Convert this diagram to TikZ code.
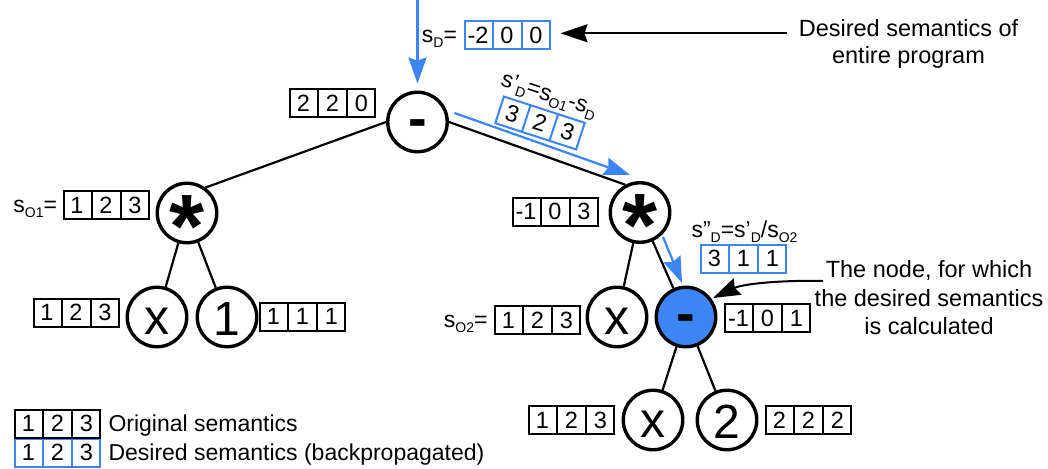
\documentclass[tikz,border=0pt]{standalone}
\usepackage{fontspec}
\setmainfont{Liberation Sans}
\usetikzlibrary{arrows.meta,shapes.multipart,calc}
\definecolor{bp}{RGB}{59,133,245}
% one cell of a semantics vector
\newcommand\cellbox[1]{\makebox[27pt]{\rule[-5.75pt]{0pt}{28pt}#1}}
% three-cell semantics vector
\newcommand\semvals[3]{\cellbox{#1}\nodepart{two}\cellbox{#2}\nodepart{three}\cellbox{#3}}
% lowered small index
\newcommand\sbs[1]{\raisebox{-5pt}{\fontsize{14}{14}\selectfont #1}}
% operator symbol centred in a tree node
\newcommand\opglyph[3]{\smash{\raisebox{-#1}{\fontsize{#2}{#2}\selectfont #3}}}
\begin{document}
\begin{tikzpicture}[x=1pt,y=-1pt,
  font=\fontsize{23}{27}\selectfont,
  op/.style={circle,draw,line width=3.4pt,minimum size=59.5pt,inner sep=0pt,fill=white},
  target/.style={op,fill=bp},
  sem/.style={draw,line width=2pt,rectangle split,rectangle split horizontal,
    rectangle split parts=3,inner xsep=0pt,inner ysep=0pt,font=\fontsize{23.5}{23.5}\selectfont},
  dsem/.style={sem,draw=bp},
  edge/.style={line width=2.2pt},
  bparrow/.style={draw=bp,line width=2.2pt,-{Stealth[length=26pt,width=18pt,inset=3pt]}},
  karrow/.style={line width=2pt,-{Stealth[length=27pt,width=18pt,inset=3pt]}}]
\useasboundingbox (0,0) rectangle (1048,468);

% tree nodes
\node[op] (root) at (417.5,122) {\opglyph{15.7pt}{56}{\bfseries -}};
\node[op] (lstar) at (187,213) {\opglyph{44pt}{90}{\bfseries *}};
\node[op] (lx) at (157,317) {\opglyph{17pt}{50}{x}};
\node[op] (lone) at (227,317) {\opglyph{18.5pt}{48}{1}};
\node[op] (rstar) at (640,212.5) {\opglyph{44pt}{90}{\bfseries *}};
\node[op] (rx) at (617,317) {\opglyph{17pt}{50}{x}};
\node[target] (tgt) at (686,317) {\opglyph{15.7pt}{56}{\bfseries -}};
\node[op] (bx) at (653,420) {\opglyph{17pt}{50}{x}};
\node[op] (btwo) at (727,420) {\opglyph{18.5pt}{48}{2}};

% tree edges
\draw[edge] (root.west) -- (lstar.54);
\draw[edge] (root.east) -- (rstar.118);
\draw[edge] (lstar) -- (lx);
\draw[edge] (lstar) -- (lone);
\draw[edge] (rstar) -- (rx);
\draw[edge] (rstar) -- (tgt);
\draw[edge] (tgt) -- (bx);
\draw[edge] (tgt) -- (btwo);

% original semantics
\node[sem] (rootsem) at (332.5,103) {\semvals{2}{2}{0}};
\node[sem] (lstarsem) at (106,205) {\semvals{1}{2}{3}};
\node[anchor=base east] (so1lab) at ($(lstarsem.west)+(-2,7)$) {s\sbs{O1}=};
\node[sem] (lxsem) at (76,312.5) {\semvals{1}{2}{3}};
\node[sem] (lonesem) at (302.5,316.5) {\semvals{1}{1}{1}};
\node[sem] (rstarsem) at (555,211.5) {\semvals{-1}{0}{3}};
\node[sem] (rxsem) at (537.5,320) {\semvals{1}{2}{3}};
\node[anchor=base east] (so2lab) at ($(rxsem.west)+(-3,7)$) {s\sbs{O2}=};
\node[sem] (tgtsem) at (767.5,318) {\semvals{-1}{0}{1}};
\node[sem] (bxsem) at (571.5,420) {\semvals{1}{2}{3}};
\node[sem] (btwosem) at (808.5,420) {\semvals{2}{2}{2}};

% desired semantics
\node[dsem] (sdbox) at (507,35.5) {\semvals{-2}{0}{0}};
\node[anchor=base east] (sdlab) at ($(sdbox.west)+(-3,7.5)$) {s\sbs{D}=};
\node[dsem,rotate=-18] (sd1box) at (540,123) {\semvals{3}{2}{3}};
\node[rotate=-18,anchor=base] (sd1lab) at (547.2,101) {s'\sbs{D}=s\sbs{O1}-s\sbs{D}};
\node[anchor=base] (sd2lab) at (744.5,237) {s''\sbs{D}=s'\sbs{D}/s\sbs{O2}};
\node[dsem] (sd2box) at (743.5,258.5) {\semvals{3}{1}{1}};

% backpropagation arrows
\coordinate (sdtop) at (417.5,0);
\draw[bparrow,shorten >=7pt] (sdtop) -- (root.north);
\draw[bparrow] ($(root)+(37,-9)$) -- ($(rstar)+(-10,-37.5)$);
\draw[bparrow] ($(rstar)+(23,24.5)$) -- ($(tgt)+(-4,-34)$);

% annotations
\node[align=center,font=\fontsize{23.5}{27}\selectfont] (desc) at (908.5,43.5) {Desired semantics of\\entire program};
\coordinate (descend) at (787,33.3);
\draw[karrow,shorten >=10pt] (descend) -- (descend -| sdbox.east);
\node[align=center,font=\fontsize{23.5}{28.5}\selectfont] (calc) at (929,298) {The node, for which\\the desired semantics\\is calculated};
\coordinate (calcptr) at (823,281);
\draw[karrow] (calcptr) .. controls (790,280) and (745,283) .. ($(tgt)+(27,-19)$);

% legend
\node[dsem] (legd) at (57.5,452.5) {\semvals{1}{2}{3}};
\node[sem] (lego) at (57.5,423.5) {\semvals{1}{2}{3}};
\node[anchor=base west] (legotxt) at (105,431) {Original semantics};
\node[anchor=base west] (legdtxt) at (105,460) {Desired semantics (backpropagated)};
\end{tikzpicture}
\end{document}
